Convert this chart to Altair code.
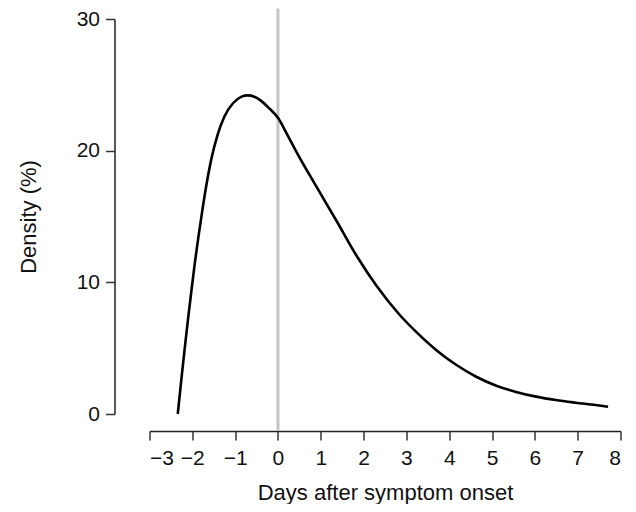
import altair as alt
import pandas as pd

# Curve (days after symptom onset, density in %)
days = [-2.34, -2.26, -2.18, -2.10, -2.02, -1.94, -1.86, -1.76, -1.66, -1.56,
        -1.41, -1.25, -1.05, -0.85, -0.71, -0.55, -0.40, -0.20, 0.0, 0.22,
        0.45, 0.92, 1.38, 1.84, 2.31, 2.85, 3.24, 3.70, 4.17, 4.63,
        5.10, 5.56, 6.03, 6.49, 6.95, 7.42, 7.71]
density = [0.0, 2.5, 4.9, 7.2, 9.4, 11.5, 13.4, 15.6, 17.6, 19.3,
           21.2, 22.6, 23.6, 24.1, 24.2, 24.1, 23.8, 23.2, 22.5, 21.2,
           19.8, 17.15, 14.6, 12.0, 9.7, 7.5, 6.2, 4.85, 3.72, 2.83,
           2.15, 1.68, 1.32, 1.06, 0.86, 0.68, 0.55]

# Reference line at symptom onset
onset_day = [0]
onset_low = [-1.3]
onset_high = [30.8]

x_ticks = [-3, -2, -1, 0, 1, 2, 3, 4, 5, 6, 7, 8]
y_ticks = [0, 10, 20, 30]

curve = pd.DataFrame({"day": days, "density": density})
onset = pd.DataFrame({"day": onset_day, "lo": onset_low, "hi": onset_high})

FONT = "Liberation Sans"

xscale = alt.Scale(domain=[-3, 8], nice=False, zero=False)
yscale = alt.Scale(domain=[0, 30], nice=False, zero=False)

x_axis = alt.Axis(values=x_ticks, offset=17, tickSize=9, labelPadding=7,
                  title="Days after symptom onset", titlePadding=14,
                  grid=False, domainColor="#222222", tickColor="#333333",
                  domainWidth=1.5, tickWidth=1.5, labelColor="#111111",
                  titleColor="#111111", labelFontSize=21, titleFontSize=22,
                  labelFont=FONT, titleFont=FONT, titleFontWeight="normal",
                  format="d")
y_axis = alt.Axis(values=y_ticks, offset=35, tickSize=9, labelPadding=6,
                  title="Density (%)", titlePadding=36,
                  grid=False, domainColor="#222222", tickColor="#333333",
                  domainWidth=1.5, tickWidth=1.5, labelColor="#111111",
                  titleColor="#111111", labelFontSize=21, titleFontSize=22,
                  labelFont=FONT, titleFont=FONT, titleFontWeight="normal",
                  format="d")

rule = alt.Chart(onset).mark_rule(color="#c4c4c4", strokeWidth=3, clip=False).encode(
    x=alt.X("day:Q", scale=xscale, axis=x_axis),
    y=alt.Y("lo:Q", scale=yscale, axis=y_axis),
    y2="hi:Q",
)

line = alt.Chart(curve).mark_line(color="black", strokeWidth=2.6,
                                  interpolate="monotone").encode(
    x=alt.X("day:Q", scale=xscale, axis=x_axis),
    y=alt.Y("density:Q", scale=yscale, axis=y_axis),
)

chart = alt.layer(rule, line).properties(
    width=471,
    height=395,
    background="white",
    autosize=alt.AutoSizeParams(type="none"),
    padding={"left": 141.5, "top": 11, "right": 7.5, "bottom": 90},
).configure_view(stroke="transparent", strokeWidth=0)

chart.save("out.html", embed_options={"renderer": "svg", "actions": False})
